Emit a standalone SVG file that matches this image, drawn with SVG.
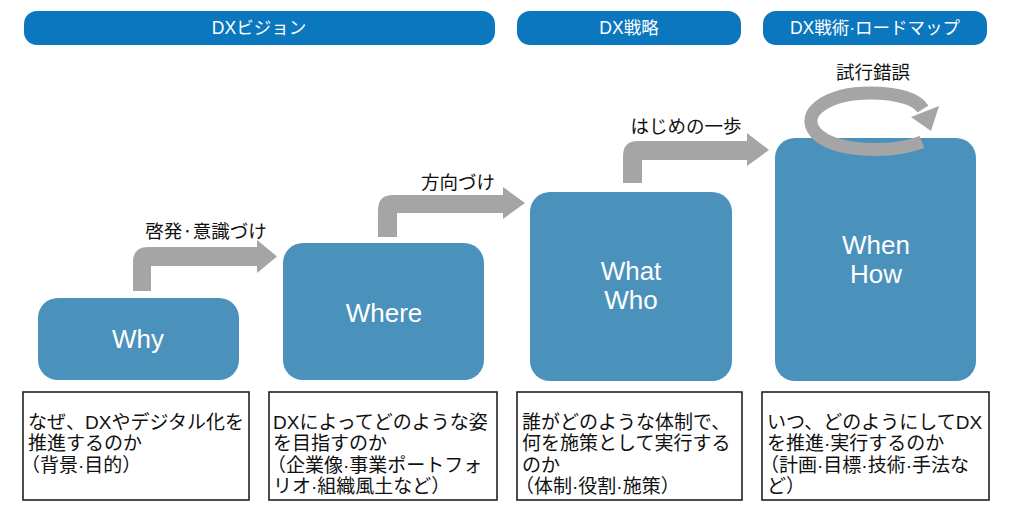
<svg xmlns="http://www.w3.org/2000/svg" width="1030" height="507" viewBox="0 0 1030 507">
<style>
.hdr{fill:#0B77BE}
.hdrt{fill:#fff;font-family:"Liberation Sans","Noto Sans CJK JP",sans-serif;font-size:17.5px;text-anchor:middle}
.box{fill:#4A91BB}
.boxt{fill:#fff;font-family:"Liberation Sans","Noto Sans CJK JP",sans-serif;font-size:26px;text-anchor:middle}
.arr{fill:#A5A5A5}
.lbl{fill:#111;font-family:"Noto Sans CJK JP",sans-serif;font-size:18.5px;text-anchor:middle}
.desc{fill:#fff;stroke:#222;stroke-width:1.6}
.dt{fill:#111;font-family:"Liberation Sans","Noto Sans CJK JP",sans-serif;font-size:19px}
</style>
<rect width="1030" height="507" fill="#fff"/>
<g id="header-vision"><rect class="hdr" x="24" y="11" width="471" height="34" rx="13"/><text class="hdrt" x="259" y="34">DXビジョン</text></g>
<g id="header-strategy"><rect class="hdr" x="517" y="11" width="224" height="34" rx="13"/><text class="hdrt" x="629" y="34">DX戦略</text></g>
<g id="header-tactics"><rect class="hdr" x="763" y="11" width="224" height="34" rx="13"/><text class="hdrt" x="875" y="34">DX戦術·ロードマップ</text></g>

<g id="node-why"><rect class="box" x="38" y="298" width="201" height="82" rx="20"/><text class="boxt" x="138" y="348">Why</text></g>
<g id="node-where"><rect class="box" x="283" y="243" width="201" height="137" rx="20"/><text class="boxt" x="384" y="322">Where</text></g>
<g id="node-whatwho"><rect class="box" x="530" y="192" width="202" height="189" rx="20"/><text class="boxt" x="631" y="280">What</text><text class="boxt" x="631" y="309">Who</text></g>
<g id="node-whenhow"><rect class="box" x="775" y="138" width="201" height="243" rx="20"/><text class="boxt" x="876" y="254">When</text><text class="boxt" x="876" y="283">How</text></g>

<g id="connectors">
<path class="arr" d="M133 291 V262 Q133 247 148 247 H257 V240 L277 256.5 L257 273 V266 H151 V291 Z"/>
<path class="arr" d="M378 237 V210 Q378 195 393 195 H503 V187 L525 203 L503 219 V213 H397 V237 Z"/>
<path class="arr" d="M623 183 V156 Q623 141 638 141 H747 V133 L769 150 L747 166 V160 H642 V183 Z"/>
<g id="cycle">
<path d="M922 142 C890 154 834 152 816 133 C798 112 830 93 870 93 C900 93 917 100 923 109" fill="none" stroke="#A5A5A5" stroke-width="13"/>
<polygon class="arr" points="939,106 911,117 931,131"/>
</g>
<text class="lbl" x="206" y="238">啓発·意識づけ</text>
<text class="lbl" x="458" y="189">方向づけ</text>
<text class="lbl" x="686" y="133">はじめの一歩</text>
<text class="lbl" x="873" y="79">試行錯誤</text>
</g>

<g id="desc-why"><rect class="desc" x="23" y="392" width="226" height="108"/>
<text class="dt" x="28" y="429">なぜ、DXやデジタル化を</text>
<text class="dt" x="28" y="450">推進するのか</text>
<text class="dt" x="21" y="472">（背景·目的）</text></g>
<g id="desc-where"><rect class="desc" x="269" y="392" width="228" height="108"/>
<text class="dt" x="273" y="429">DXによってどのような姿</text>
<text class="dt" x="273" y="450">を目指すのか</text>
<text class="dt" x="267" y="472">（企業像·事業ポートフォ</text>
<text class="dt" x="273" y="493">リオ·組織風土など）</text></g>
<g id="desc-whatwho"><rect class="desc" x="517" y="392" width="225" height="108"/>
<text class="dt" x="522" y="429">誰がどのような体制で、</text>
<text class="dt" x="522" y="450">何を施策として実行する</text>
<text class="dt" x="522" y="472">のか</text>
<text class="dt" x="515" y="493">（体制·役割·施策）</text></g>
<g id="desc-whenhow"><rect class="desc" x="762" y="392" width="227" height="108"/>
<text class="dt" x="767" y="429">いつ、どのようにしてDX</text>
<text class="dt" x="767" y="450">を推進·実行するのか</text>
<text class="dt" x="760" y="472">（計画·目標·技術·手法な</text>
<text class="dt" x="767" y="493">ど）</text></g>
</svg>
